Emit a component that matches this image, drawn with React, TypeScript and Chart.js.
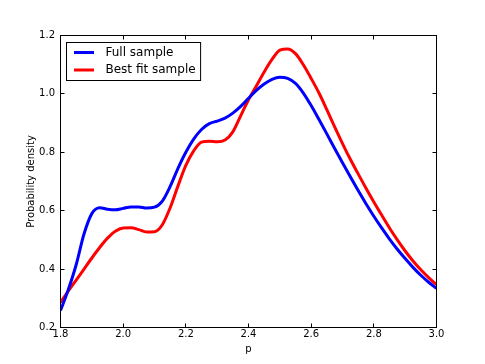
import React, { useEffect, useRef } from "react";
import { Chart, registerables } from "chart.js";

Chart.register(...registerables);

const pValues = [
  1.8, 1.825, 1.85, 1.875, 1.9, 1.925, 1.95, 1.975, 2.0, 2.025, 2.05, 2.075, 2.1,
  2.125, 2.15, 2.175, 2.2, 2.225, 2.25, 2.275, 2.3, 2.325, 2.35, 2.375, 2.4,
  2.425, 2.45, 2.475, 2.5, 2.525, 2.55, 2.575, 2.6, 2.625, 2.65, 2.675, 2.7,
  2.725, 2.75, 2.775, 2.8, 2.825, 2.85, 2.875, 2.9, 2.925, 2.95, 2.975, 3.0,
];

const fullSample = [
  0.258, 0.33, 0.415, 0.52, 0.59, 0.61, 0.605, 0.603, 0.608, 0.613, 0.613, 0.609,
  0.612, 0.633, 0.683, 0.745, 0.8, 0.845, 0.878, 0.898, 0.907, 0.917, 0.934,
  0.957, 0.985, 1.012, 1.034, 1.05, 1.057, 1.053, 1.036, 1.003, 0.96, 0.912,
  0.863, 0.813, 0.764, 0.716, 0.669, 0.624, 0.581, 0.541, 0.503, 0.468, 0.436,
  0.406, 0.379, 0.355, 0.334,
];

const bestFitSample = [
  0.286, 0.325, 0.362, 0.4, 0.438, 0.474, 0.506, 0.53, 0.541, 0.542, 0.535, 0.527,
  0.528, 0.552, 0.61, 0.685, 0.755, 0.805, 0.835, 0.838, 0.836, 0.842, 0.87,
  0.925, 0.98, 1.027, 1.075, 1.118, 1.15, 1.154, 1.138, 1.1, 1.053, 1.003, 0.946,
  0.887, 0.83, 0.776, 0.726, 0.677, 0.63, 0.585, 0.541, 0.5, 0.462, 0.428, 0.398,
  0.371, 0.347,
];

const seriesLabels = ["Full sample", "Best fit sample"];
const seriesColors = ["#0000ff", "#ff0000"];
const xTitle = "p";
const yTitle = "Probability density";

const FONT = "'DejaVu Sans', sans-serif";

const framePlugin = {
  id: "frameAndTicks",
  afterDraw(chart: any) {
    const { ctx, chartArea } = chart;
    const { left, right, top, bottom } = chartArea;
    const xs = chart.scales.x;
    const ys = chart.scales.y;
    ctx.save();
    ctx.strokeStyle = "#000";
    ctx.lineWidth = 1;
    ctx.strokeRect(left, top, right - left, bottom - top);
    const tl = 4;
    ctx.beginPath();
    xs.ticks.forEach((t: any) => {
      const px = Math.floor(xs.getPixelForValue(t.value)) + 0.5;
      ctx.moveTo(px, bottom);
      ctx.lineTo(px, bottom - tl);
      ctx.moveTo(px, top);
      ctx.lineTo(px, top + tl);
    });
    ys.ticks.forEach((t: any) => {
      const py = Math.floor(ys.getPixelForValue(t.value)) + 0.5;
      ctx.moveTo(left, py);
      ctx.lineTo(left + tl, py);
      ctx.moveTo(right, py);
      ctx.lineTo(right - tl, py);
    });
    ctx.stroke();

    // legend
    const datasets = chart.data.datasets;
    ctx.font = `12px ${FONT}`;
    let maxW = 0;
    datasets.forEach((d: any) => {
      maxW = Math.max(maxW, ctx.measureText(d.label).width);
    });
    const bx = left + 6;
    const by = top + 7;
    const bw = 39 + maxW + 5;
    const bh = 38;
    ctx.fillStyle = "#fff";
    ctx.fillRect(bx, by, bw, bh);
    ctx.strokeStyle = "#000";
    ctx.lineWidth = 1;
    ctx.strokeRect(bx, by, bw, bh);
    datasets.forEach((d: any, i: number) => {
      const ly = by + 10 + i * 17.5;
      ctx.strokeStyle = d.borderColor;
      ctx.lineWidth = 3;
      ctx.beginPath();
      ctx.moveTo(bx + 7.5, ly);
      ctx.lineTo(bx + 27.5, ly);
      ctx.stroke();
      ctx.fillStyle = "#000";
      ctx.textBaseline = "middle";
      ctx.textAlign = "left";
      ctx.fillText(d.label, bx + 39, ly);
    });
    ctx.restore();
  },
};

export default function App() {
  const ref = useRef<HTMLCanvasElement>(null);

  useEffect(() => {
    if (!ref.current) return;
    const mk = (vals: number[]) => pValues.map((x, i) => ({ x, y: vals[i] }));
    const chart = new Chart(ref.current, {
      type: "line",
      data: {
        datasets: [
          {
            label: seriesLabels[0],
            data: mk(fullSample),
            borderColor: seriesColors[0],
            backgroundColor: seriesColors[0],
            borderWidth: 3,
            pointRadius: 0,
            cubicInterpolationMode: "monotone",
            fill: false,
          },
          {
            label: seriesLabels[1],
            data: mk(bestFitSample),
            borderColor: seriesColors[1],
            backgroundColor: seriesColors[1],
            borderWidth: 3,
            pointRadius: 0,
            cubicInterpolationMode: "monotone",
            fill: false,
          },
        ],
      },
      options: {
        responsive: false,
        animation: false,
        layout: { padding: { left: 0, top: 35.5, right: 48.5, bottom: 0 } },
        plugins: {
          legend: { display: false },
          tooltip: { enabled: false },
        },
        scales: {
          x: {
            type: "linear",
            min: 1.8,
            max: 3.0,
            grid: { display: false, drawTicks: false },
            border: { display: false },
            ticks: {
              stepSize: 0.2,
              autoSkip: false,
              maxRotation: 0,
              padding: 0.5,
              color: "#000",
              font: { family: FONT, size: 10 },
              callback: (v: any) => Number(v).toFixed(1),
            },
            title: {
              display: true,
              text: xTitle,
              color: "#000",
              font: { family: FONT, size: 10 },
              padding: { top: 0, bottom: 9 },
            },
            afterFit: (s: any) => {
              s.height = 36.5;
            },
          },
          y: {
            type: "linear",
            min: 0.2,
            max: 1.2,
            grid: { display: false, drawTicks: false },
            border: { display: false },
            ticks: {
              stepSize: 0.2,
              autoSkip: false,
              padding: 5.5,
              color: "#000",
              font: { family: FONT, size: 10 },
              callback: (v: any) => Number(v).toFixed(1),
            },
            title: {
              display: true,
              text: yTitle,
              color: "#000",
              font: { family: FONT, size: 10 },
              padding: { top: 25, bottom: 0 },
            },
            afterFit: (s: any) => {
              s.width = 60.5;
            },
          },
        },
      },
      plugins: [framePlugin],
    });
    return () => chart.destroy();
  }, []);

  return (
    <div style={{ position: "fixed", left: 0, top: 0, width: 485, height: 364, background: "#fff" }}>
      <canvas ref={ref} width={485} height={364} style={{ display: "block" }} />
    </div>
  );
}
